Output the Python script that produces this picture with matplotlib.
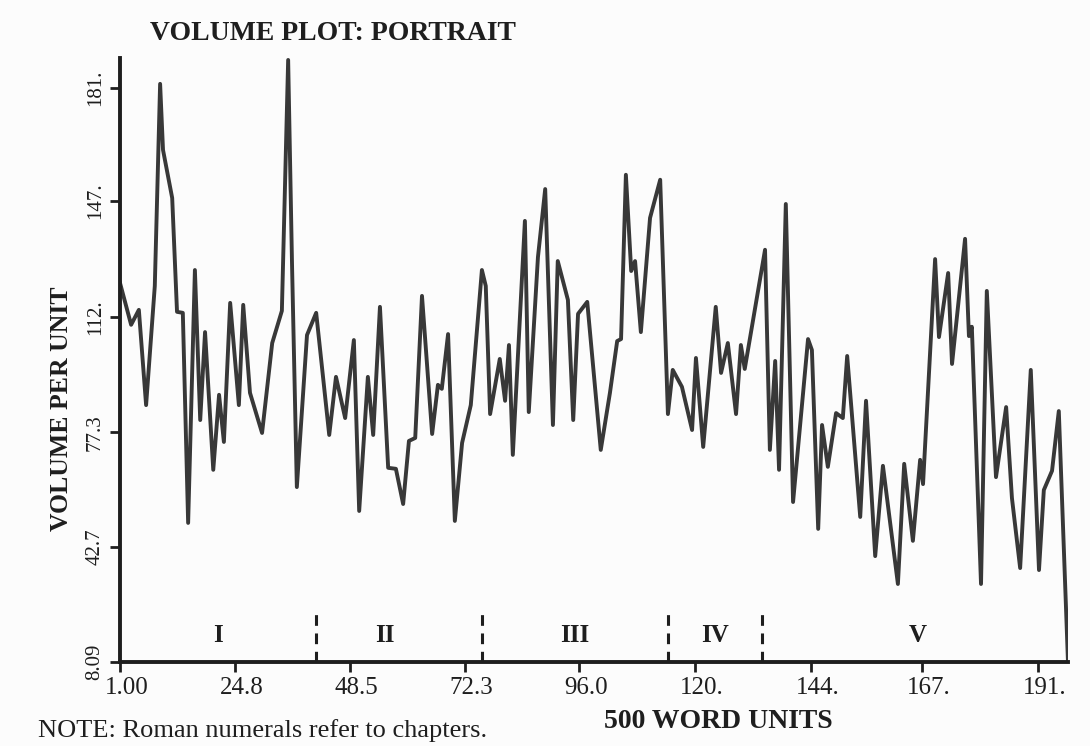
import numpy as np
import matplotlib.pyplot as plt
import matplotlib.transforms as mtransforms

# volume per 500-word unit
units = [1.0, 3.3, 4.9, 6.4, 8.2, 9.3, 9.9, 11.8, 12.8, 14.0, 15.1, 16.5, 17.6, 18.6,
         20.3, 21.5, 22.5, 23.8, 25.6, 26.5, 27.9, 30.4, 32.5, 34.5, 35.8, 36.6, 37.6,
         39.7, 41.6, 44.3, 45.7, 47.6, 49.4, 50.5, 52.3, 53.4, 54.8, 56.5, 58.1, 59.6,
         60.8, 62.1, 63.5, 65.6, 66.8, 67.6, 68.9, 70.3, 71.8, 73.6, 75.9, 76.7, 77.6,
         79.6, 80.7, 81.5, 82.3, 84.8, 85.6, 87.5, 89.0, 90.6, 91.6, 93.7, 94.8, 95.8,
         97.7, 100.5, 102.4, 103.9, 104.7, 105.7, 106.8, 107.6, 108.8, 110.7, 112.8,
         114.4, 115.4, 117.3, 119.4, 120.2, 121.7, 124.3, 125.4, 126.8, 128.5, 129.5,
         130.3, 134.5, 135.5, 136.6, 137.4, 138.8, 140.3, 143.4, 144.2, 145.5, 146.3,
         147.5, 149.2, 150.6, 151.5, 154.2, 155.4, 157.3, 158.9, 162.0, 163.3, 165.1,
         166.6, 167.2, 169.7, 170.5, 172.4, 173.2, 175.9, 176.7, 177.3, 179.2, 180.4,
         182.3, 184.4, 185.6, 187.3, 189.5, 191.2, 192.2, 193.9, 195.3, 197.2]
volume = [122.3, 109.7, 114.2, 85.5, 121.4, 182.3, 162.4, 147.9, 113.6, 113.3, 50.0,
          126.2, 81.0, 107.5, 66.0, 88.6, 74.4, 116.3, 85.5, 115.7, 89.2, 77.1, 104.2,
          113.9, 189.5, 128.0, 60.8, 106.6, 113.3, 76.5, 94.0, 81.6, 105.1, 53.6, 94.0,
          76.5, 115.1, 66.6, 66.3, 55.7, 74.7, 75.6, 118.4, 76.8, 91.6, 90.4, 106.9,
          50.6, 74.1, 85.5, 126.2, 121.4, 82.8, 99.4, 86.8, 103.6, 70.5, 141.0, 83.4,
          130.1, 150.6, 79.5, 128.9, 117.2, 81.0, 113.0, 116.6, 72.0, 89.2, 104.8,
          105.4, 154.9, 125.9, 128.9, 107.5, 141.9, 153.4, 82.8, 96.1, 91.0, 78.0,
          99.7, 72.9, 115.1, 95.2, 104.2, 82.8, 103.6, 96.4, 132.3, 72.0, 98.8, 66.0,
          146.1, 56.3, 105.4, 102.1, 48.2, 79.5, 66.9, 83.1, 81.6, 100.3, 51.8, 86.8,
          40.0, 67.2, 31.6, 67.8, 44.6, 69.0, 61.7, 129.5, 106.0, 125.3, 97.9, 135.6,
          106.3, 109.1, 31.6, 119.9, 63.8, 84.9, 57.5, 36.4, 96.1, 35.8, 59.9, 65.7,
          83.7, 8.09]

xticks = [1.00, 24.8, 48.5, 72.3, 96.0, 120., 144., 167., 191.]
xtick_labels = ['1.00', '24.8', '48.5', '72.3', '96.0', '120.', '144.', '167.', '191.']
yticks = [8.09, 42.7, 77.3, 112., 147., 181.]
ytick_labels = ['8.09', '42.7', '77.3', '112.', '147.', '181.']

# chapter breaks and labels
chapter_breaks = [41.6, 75.9, 114.4, 133.9]
chapter_names = ['I', 'II', 'III', 'IV', 'V']
chapter_pos = [21.3, 55.8, 95.2, 124.1, 166.1]

ink = '#1e1e1e'
plt.rcParams['font.family'] = ['Liberation Serif', 'DejaVu Serif']

fig = plt.figure(figsize=(10.9, 7.46), dpi=100)
fig.patch.set_facecolor('#fcfcfc')
ax = fig.add_axes([0.1101, 0.1126, 0.8697, 0.8097])
ax.set_facecolor('#fcfcfc')

ax.plot(units, volume, color='#383838', lw=2.8, solid_joinstyle='round')

for b in chapter_breaks:
    ax.axvline(b, ymin=0, ymax=0.088, color=ink, lw=2.2, linestyle=(0, (3.5, 2.5)))
for name, pos in zip(chapter_names, chapter_pos):
    ax.text(pos, 16.0, name, ha='center', va='center', fontsize=18,
            fontweight='bold', color=ink)

ax.set_xlim(1.0, 197.2)
ax.set_ylim(8.09, 190.1)
ax.set_xticks(xticks)
ax.set_xticklabels(xtick_labels, fontsize=18, color=ink)
ax.set_yticks(yticks)
ax.set_yticklabels(ytick_labels, fontsize=15, color=ink, rotation=90, va='center')
ax.tick_params(axis='both', direction='out', length=7, width=2, color=ink, pad=4)

# the printed x labels sit a little right of their ticks
shift = mtransforms.ScaledTranslation(7 / 100, 0, fig.dpi_scale_trans)
for lab in ax.get_xticklabels():
    lab.set_transform(lab.get_transform() + shift)

for side in ['top', 'right']:
    ax.spines[side].set_visible(False)
for side in ['left', 'bottom']:
    ax.spines[side].set_linewidth(2.8)
    ax.spines[side].set_color(ink)

ax.set_ylabel('VOLUME PER UNIT', fontsize=18.5, color=ink, fontweight='bold')
ax.set_xlabel('500 WORD UNITS', fontsize=20, color=ink, fontweight='bold')
ax.xaxis.set_label_coords(0.631, -0.077)
ax.yaxis.set_label_coords(-0.05, 0.42)

fig.text(0.138, 0.946, 'VOLUME PLOT: PORTRAIT', fontsize=20, color=ink, fontweight='bold')
fig.text(0.035, 0.012, 'NOTE: Roman numerals refer to chapters.', fontsize=19, color=ink)

fig.savefig('out.png', dpi=100, facecolor=fig.get_facecolor())
